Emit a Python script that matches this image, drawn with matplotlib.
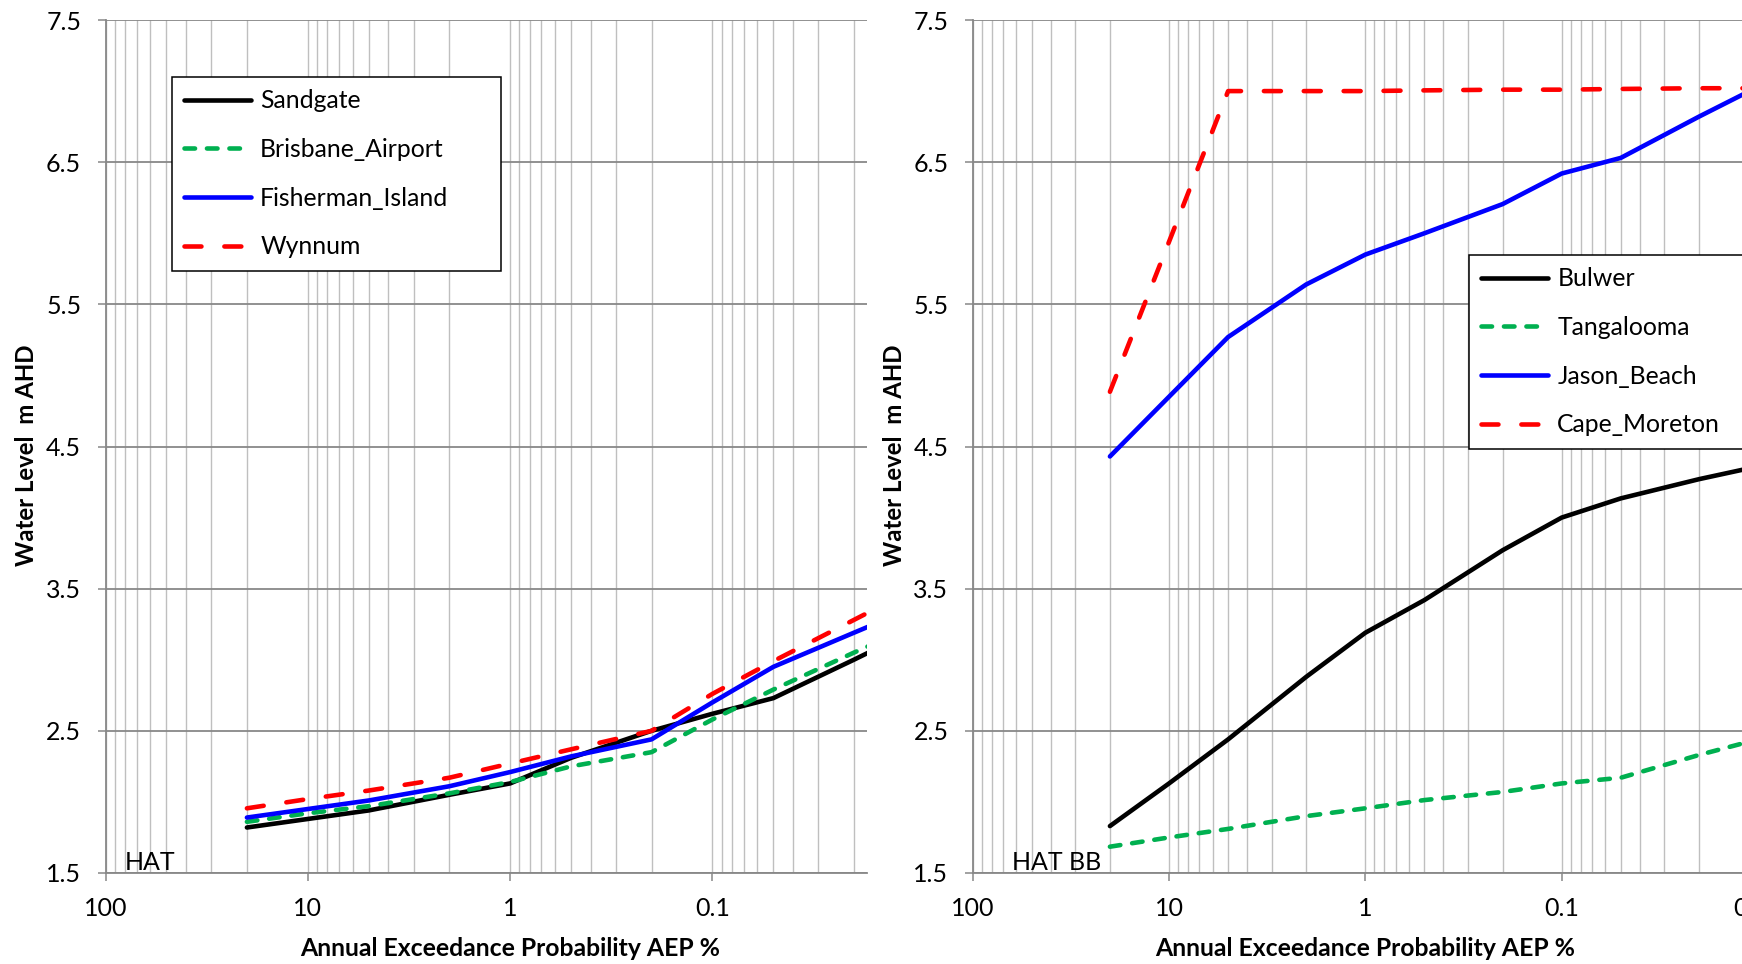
import matplotlib
matplotlib.use("Agg")
import matplotlib.pyplot as plt
from matplotlib.ticker import FixedLocator, LogLocator, NullFormatter

plt.rcParams['font.family'] = ['Lato', 'DejaVu Sans']

# Annual exceedance probabilities (%) at which water levels were computed
aep = [20, 10, 5, 2, 1, 0.5, 0.2, 0.1, 0.05, 0.02, 0.01]

# Inner-bay sites (m AHD)
sandgate = [1.82, 1.88, 1.94, 2.05, 2.13, 2.31, 2.50, 2.62, 2.73, 3.00, 3.21]
brisbane_airport = [1.86, 1.92, 1.97, 2.06, 2.14, 2.25, 2.35, 2.58, 2.79, 3.05, 3.24]
fisherman_island = [1.89, 1.95, 2.01, 2.11, 2.21, 2.32, 2.44, 2.70, 2.95, 3.19, 3.37]
wynnum = [1.955, 2.02, 2.08, 2.17, 2.27, 2.37, 2.50, 2.76, 2.99, 3.28, 3.50]

# Outer-bay / island sites (m AHD)
bulwer = [1.83, 2.13, 2.44, 2.88, 3.19, 3.42, 3.77, 4.00, 4.135, 4.27, 4.36]
tangalooma = [1.685, 1.75, 1.81, 1.90, 1.955, 2.013, 2.07, 2.13, 2.17, 2.33, 2.44]
jason_beach = [4.43, 4.85, 5.27, 5.64, 5.85, 6.00, 6.205, 6.42, 6.53, 6.82, 7.03]
cape_moreton = [4.885, 5.94, 7.00, 7.00, 7.00, 7.005, 7.01, 7.01, 7.015, 7.02, 7.02]

x_ticks = [100, 10, 1, 0.1, 0.01]
x_tick_labels = ['100', '10', '1', '0.1', '0.01']
y_ticks = [1.5, 2.5, 3.5, 4.5, 5.5, 6.5, 7.5]
y_tick_labels = ['1.5', '2.5', '3.5', '4.5', '5.5', '6.5', '7.5']

W, H = 1742, 964
LW = 3.3
BLACK, GREEN, BLUE, RED = '#000000', '#00B050', '#0000FF', '#FF0000'
GREEN_DASH = (0, (2.3, 2.6))
RED_DASH = (0, (3.7, 5.0))
MAJOR_GRID = '#888888'
MINOR_GRID = '#bfbfbf'
TICK_FS = 18
LEGEND_FS = 17.8
YTITLE_FS = 17.3
XTITLE_FS = 17.8

fig = plt.figure(figsize=(W / 100, H / 100), dpi=100)
ax1 = fig.add_axes([105.5 / W, (H - 873) / H, (867 - 105.5) / W, 853 / H])
ax2 = fig.add_axes([972.7 / W, (H - 873) / H, (1758 - 972.7) / W, 853 / H])


def style_axes(ax, xmin_aep):
    ax.set_xscale('log')
    ax.xaxis.set_major_locator(FixedLocator(x_ticks))
    ax.set_xticks(x_ticks)
    ax.set_xticklabels(x_tick_labels)
    ax.xaxis.set_minor_locator(LogLocator(base=10, subs=[2, 3, 4, 5, 6, 7, 8, 9], numticks=20))
    ax.xaxis.set_minor_formatter(NullFormatter())
    ax.set_yticks(y_ticks)
    ax.set_yticklabels(y_tick_labels)
    ax.set_xlim(100, xmin_aep)
    ax.set_ylim(1.5, 7.5)
    ax.set_axisbelow(True)
    ax.grid(axis='x', which='both', color=MINOR_GRID, lw=1.0)
    ax.grid(axis='y', which='major', color=MAJOR_GRID, lw=1.3)
    for side in ('top', 'right'):
        ax.spines[side].set_visible(False)
    for side in ('left', 'bottom'):
        ax.spines[side].set_color(MAJOR_GRID)
        ax.spines[side].set_linewidth(1.3)
    ax.tick_params(axis='both', which='major', direction='out', length=5.5,
                   width=1.1, color=MAJOR_GRID, labelsize=TICK_FS, labelcolor='black')
    ax.tick_params(axis='y', pad=12)
    ax.tick_params(axis='x', pad=12)
    ax.tick_params(axis='x', which='minor', length=0)


def add_legend(ax, handles, labels, x0, y_bottom, width, height):
    leg = ax.legend(handles, labels, loc='upper left',
                    bbox_to_anchor=(x0, y_bottom, width, height), mode='expand',
                    fontsize=LEGEND_FS, frameon=True, fancybox=False, edgecolor='black',
                    framealpha=1, handlelength=2.71, handletextpad=0.36,
                    labelspacing=1.04, borderpad=0.5, borderaxespad=0)
    leg.get_frame().set_linewidth(1.1)
    return leg


style_axes(ax1, 0.01722)
style_axes(ax2, 0.01)

# Inner-bay panel
l_sg, = ax1.plot(aep, sandgate, color=BLACK, lw=LW, solid_capstyle='round')
l_ba, = ax1.plot(aep, brisbane_airport, color=GREEN, lw=LW, ls=GREEN_DASH, dash_capstyle='round')
l_fi, = ax1.plot(aep, fisherman_island, color=BLUE, lw=LW, solid_capstyle='round')
l_wy, = ax1.plot(aep, wynnum, color=RED, lw=LW, ls=RED_DASH, dash_capstyle='round')
add_legend(ax1, [l_sg, l_ba, l_fi, l_wy],
           ['Sandgate', 'Brisbane_Airport', 'Fisherman_Island', 'Wynnum'],
           0.0873, 0.7081, 0.4321, 0.2251)
ax1.text(0.0256, 0.0035, 'HAT', transform=ax1.transAxes, ha='left', va='baseline', fontsize=18)

# Outer-bay panel
l_bu, = ax2.plot(aep, bulwer, color=BLACK, lw=LW, solid_capstyle='round')
l_ta, = ax2.plot(aep, tangalooma, color=GREEN, lw=LW, ls=GREEN_DASH, dash_capstyle='round')
l_jb, = ax2.plot(aep, jason_beach, color=BLUE, lw=LW, solid_capstyle='round')
l_cm, = ax2.plot(aep, cape_moreton, color=RED, lw=LW, ls=RED_DASH, dash_capstyle='round')
add_legend(ax2, [l_bu, l_ta, l_jb, l_cm],
           ['Bulwer', 'Tangalooma', 'Jason_Beach', 'Cape_Moreton'],
           0.632, 0.4945, 0.42, 0.23)
ax2.text(0.050, 0.0035, 'HAT BB', transform=ax2.transAxes, ha='left', va='baseline', fontsize=18)

# Axis titles
for xc in (26, 894):
    fig.text(xc / W, (H - 455) / H, 'Water Level  m AHD', rotation=90,
             ha='center', va='center', fontsize=YTITLE_FS, fontweight='bold')
for xc in (510, 1365.3):
    fig.text(xc / W, (H - 948) / H, 'Annual Exceedance Probability AEP %',
             ha='center', va='center', fontsize=XTITLE_FS, fontweight='bold')

fig.savefig('out.png', dpi=100)
